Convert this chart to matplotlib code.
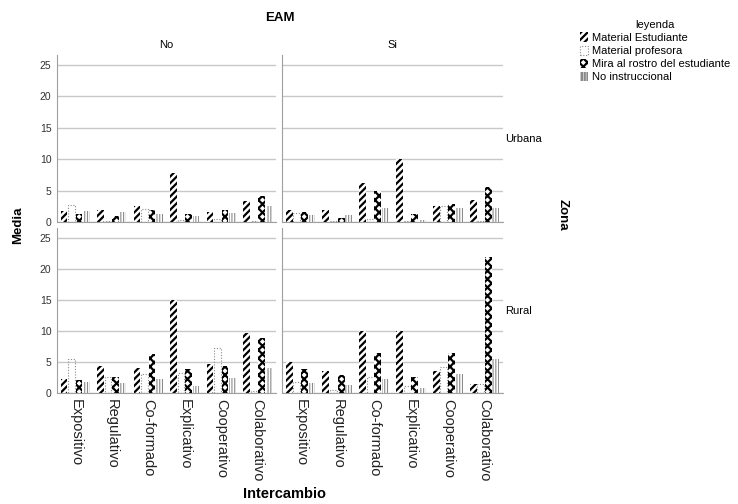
import numpy as np
import matplotlib
matplotlib.use('Agg')
import matplotlib.pyplot as plt
from matplotlib.patches import Patch

plt.rcParams['font.family'] = ['Liberation Sans', 'DejaVu Sans']
plt.rcParams['hatch.linewidth'] = 1.6

categories = ['Expositivo', 'Regulativo', 'Co-formado', 'Explicativo', 'Cooperativo', 'Colaborativo']
series = ['Material Estudiante', 'Material profesora', 'Mira al rostro del estudiante', 'No instruccional']

# media por panel: filas = series, columnas = categorias
no_urbana = [[1.7, 1.9, 2.5, 7.8, 1.6, 3.3],
             [2.7, 0.2, 2.0, 0.3, 0.5, 0.2],
             [1.2, 0.9, 1.9, 1.3, 1.9, 4.2],
             [1.8, 1.6, 1.2, 1.0, 1.4, 2.5]]
si_urbana = [[1.9, 1.9, 6.2, 10.0, 2.5, 3.5],
             [1.5, 0.2, 0.5, 0.2, 2.5, 0.2],
             [1.6, 0.7, 5.0, 1.3, 2.8, 5.6],
             [1.1, 1.1, 2.2, 0.3, 2.3, 2.3]]
no_rural = [[2.2, 4.4, 4.1, 15.0, 4.7, 9.7],
            [5.5, 2.5, 3.0, 3.2, 7.2, 0.3],
            [2.1, 2.6, 6.3, 3.8, 4.4, 8.8],
            [1.8, 1.6, 2.2, 1.2, 2.4, 4.1]]
si_rural = [[5.0, 3.5, 10.0, 10.0, 3.5, 1.4],
            [1.8, 0.5, 2.5, 1.2, 4.2, 1.5],
            [3.8, 2.9, 6.5, 2.6, 6.4, 22.0],
            [1.6, 1.3, 2.2, 0.8, 3.0, 5.5]]

W, H = 738, 504
fig = plt.figure(figsize=(W / 100, H / 100), dpi=100)


def px_axes(l, t, r, b):
    return fig.add_axes([l / W, 1 - b / H, (r - l) / W, (b - t) / H])


styles = [dict(facecolor='white', edgecolor='black', hatch='/////', linewidth=0),
          dict(facecolor='none', edgecolor='#8a8a8a', linestyle=(0, (1, 1.5)), linewidth=0.8),
          dict(facecolor='white', edgecolor='black', hatch='xxxx', linewidth=0),
          dict(facecolor='white', edgecolor='#8a8a8a', hatch='||||||', linewidth=0)]
hatch_lw = [1.6, 1.6, 1.6, 0.8]

panels = [(57, 55, 276, 222, no_urbana, 'No', None, True, False),
          (282, 55, 503, 222, si_urbana, 'Si', 'Urbana', False, False),
          (57, 228, 276, 393, no_rural, None, None, True, True),
          (282, 228, 503, 393, si_rural, None, 'Rural', False, True)]

x = np.arange(len(categories))
bw = 0.19
for l, t, r, b, data, top, side, ylab, xlab in panels:
    ax = px_axes(l, t, r, b)
    for k, vals in enumerate(data):
        with plt.rc_context({'hatch.linewidth': hatch_lw[k]}):
            ax.bar(x + (k - 1.5) * 0.205, vals, width=bw, **styles[k])
    ax.set_xlim(-0.5, 5.5)
    ax.set_ylim(0, 26.6)
    ax.set_yticks([0, 5, 10, 15, 20, 25])
    ax.yaxis.grid(True, color='#c8c8c8', linewidth=1)
    ax.set_axisbelow(True)
    for s in ['top', 'right']:
        ax.spines[s].set_visible(False)
    ax.spines['left'].set_color('#a0a0a0')
    ax.spines['bottom'].set_color('#a0a0a0')
    ax.tick_params(length=0, labelsize=7.5, colors='#333333', pad=4)
    if not ylab:
        ax.set_yticklabels([])
    ax.set_xticks(x)
    if xlab:
        ax.set_xticklabels(categories, rotation=-90, fontsize=10.5, color='#222222')
    else:
        ax.set_xticklabels([])
    if top:
        ax.set_title(top, fontsize=8, pad=5)
    if side:
        ax.text(1.01, 0.5, side, transform=ax.transAxes, fontsize=8, ha='left', va='center')

fig.text(280 / W, 1 - 18 / H, 'EAM', fontsize=9.5, fontweight='bold', ha='center', va='center')
fig.text(18 / W, 1 - 225 / H, 'Media', fontsize=9.5, fontweight='bold', rotation=90, ha='center', va='center')
fig.text(563 / W, 1 - 215 / H, 'Zona', fontsize=9.5, fontweight='bold', rotation=-90, ha='center', va='center')
fig.text(285 / W, 1 - 494 / H, 'Intercambio', fontsize=10.5, fontweight='bold', ha='center', va='center')

handles = []
for k in range(4):
    with plt.rc_context({'hatch.linewidth': hatch_lw[k]}):
        handles.append(Patch(**styles[k], label=series[k]))
leg = fig.legend(handles=handles, title='leyenda', loc='upper left', bbox_to_anchor=(574 / W, 1 - 14 / H),
                 frameon=False, fontsize=8, title_fontsize=8, handlelength=0.8, handleheight=0.9,
                 handletextpad=0.3, labelspacing=0.25, borderpad=0)

fig.savefig('out.png', dpi=100)
